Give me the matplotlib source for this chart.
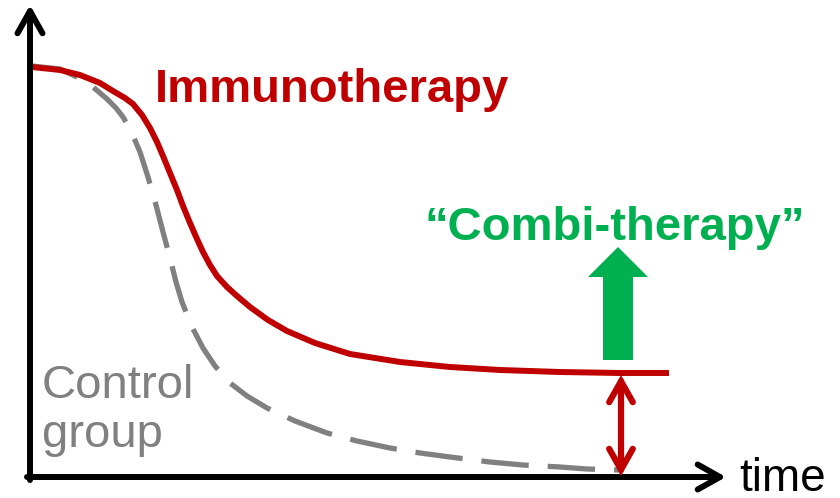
import matplotlib
matplotlib.use('Agg')
import matplotlib.pyplot as plt
from matplotlib.patches import FancyArrow

plt.rcParams['font.family'] = ['Liberation Sans', 'DejaVu Sans']

# 曲線データ（画像から読み取り、ピクセル座標系）
immuno_x = [32, 60, 80, 100, 113, 125, 133, 142, 150, 157, 163, 170, 177, 183,
            190, 197, 203, 210, 217, 227, 237, 250, 268, 287, 315, 350, 400,
            450, 500, 560, 620, 669]
immuno_y = [67, 70, 75, 83, 91, 98, 104, 115, 128, 142, 156, 173, 190, 206,
            223, 239, 252, 265, 276, 287, 296, 307, 320, 331, 343, 354, 362,
            367, 370, 372, 373, 373]

control_x = [32, 60, 77, 93, 107, 116, 123, 131, 140, 148, 156, 163, 170, 176,
             182, 192, 203, 215, 230, 247, 267, 295, 327, 357, 390, 420, 450,
             490, 523, 560, 587, 620]
control_y = [66, 69, 77, 87, 99, 108, 117, 131, 152, 177, 205, 232, 258, 282,
             302, 327, 348, 366, 383, 396, 408, 421, 433, 441, 448, 453, 457,
             462, 465, 467, 469, 470]

labels = ['Immunotherapy', '\u201cCombi-therapy\u201d', 'Control\ngroup', 'time']

RED = '#C00000'
GREEN = '#00B050'
GRAY = '#808080'

fig = plt.figure(figsize=(8.4, 4.98), dpi=100)
ax = fig.add_axes([0, 0, 1, 1])
ax.set_xlim(0, 840)
ax.set_ylim(498, 0)
ax.axis('off')

# 曲線
ax.plot(control_x, control_y, color=GRAY, lw=3.8, ls=(0, (9, 3.6)),
        dash_joinstyle='round', zorder=2)
ax.plot(immuno_x, immuno_y, color=RED, lw=4.3, solid_capstyle='butt',
        solid_joinstyle='round', zorder=3)

# 軸（矢印）
axis_kw = dict(arrowstyle='->,head_length=16,head_width=9', lw=4.3,
               color='black', shrinkA=0, shrinkB=0, mutation_scale=1)
ax.annotate('', xy=(30, 5), xytext=(30, 480), arrowprops=axis_kw, zorder=4)
ax.annotate('', xy=(726, 477), xytext=(27, 477), arrowprops=axis_kw, zorder=4)

# 差を示す赤い両矢印
x_gap = 621
ax.annotate('', xy=(x_gap, immuno_y[-1] + 2), xytext=(x_gap, 476),
            arrowprops=dict(arrowstyle='<->,head_length=15,head_width=8.5',
                            lw=4.5, color=RED, shrinkA=0, shrinkB=0,
                            mutation_scale=1, capstyle='round',
                            joinstyle='miter'),
            zorder=5)

# 緑の上向き矢印
ax.add_patch(FancyArrow(618, 360, 0, -113, width=30, head_width=60,
                        head_length=30, length_includes_head=True,
                        color=GREEN, lw=0, zorder=5))

# テキスト
ax.text(155, 102, labels[0], color=RED, fontsize=34, fontweight='bold',
        ha='left', va='baseline')
ax.text(425, 240, labels[1], color=GREEN, fontsize=34, fontweight='bold',
        ha='left', va='baseline')
ax.text(42, 447, labels[2], color=GRAY, fontsize=34, ha='left',
        va='baseline', linespacing=1.15)
ax.text(739, 491, labels[3], color='black', fontsize=33, ha='left',
        va='baseline')

fig.savefig('out.png', dpi=100)
